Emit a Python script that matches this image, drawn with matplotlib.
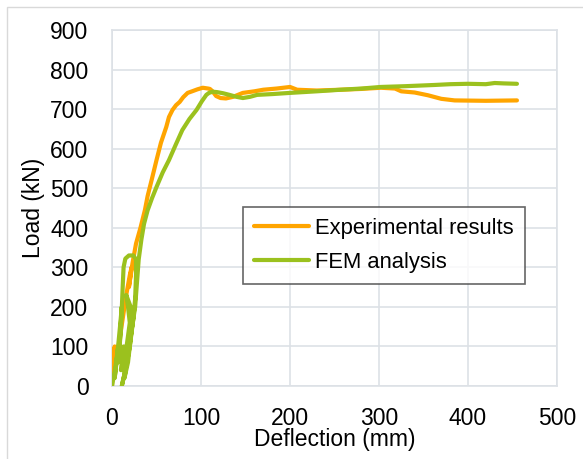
import matplotlib
matplotlib.use("Agg")
import matplotlib.pyplot as plt
from matplotlib.patches import Rectangle

plt.rcParams['font.family'] = ['Liberation Sans', 'DejaVu Sans']

# Experimental results (deflection mm, load kN)
exp_x = [0, 1, 2, 3, 4, 3, 5, 8, 12, 16, 20, 22, 19, 23, 27, 32, 37, 40, 45, 50, 55, 61, 64, 68,
         72, 76, 80, 85, 90, 96, 102, 108, 110, 113, 117, 122, 128, 136, 147, 160, 170, 185, 200,
         208, 230, 257, 280, 302, 318, 325, 340, 355, 370, 385, 420, 455]
exp_y = [0, 50, 90, 100, 85, 40, 60, 110, 170, 230, 280, 300, 250, 310, 360, 400, 445, 480, 525,
         571, 615, 655, 680, 698, 710, 718, 730, 741, 745, 750, 754, 752, 751, 745, 733, 728, 727,
         731, 741, 745, 749, 752, 756, 749, 747, 749, 751, 754, 752, 745, 742, 735, 726, 722, 721,
         722]

# FEM analysis
fem_x = [0, 4, 7, 5, 3, 6, 9, 11, 9, 7, 10, 12, 13, 15, 19, 24, 27, 27, 26, 24, 20, 16, 11,
         14, 15, 13, 10, 13, 17, 20, 18, 16, 21, 24, 22, 18, 14, 18,
         22, 26, 28, 30, 33, 36, 40, 45, 50, 57, 64, 72, 79, 87, 95, 101, 106, 109, 113, 118,
         125, 132, 140, 147, 155, 163, 180, 200, 230, 257, 280, 302, 330, 362, 380, 400, 420, 430,
         440, 455]
fem_y = [0, 50, 100, 60, 20, 80, 150, 200, 120, 60, 140, 250, 300, 322, 330, 330, 320, 280, 220,
         170, 100, 50, 0,
         30, 80, 100, 40, 50, 110, 160, 200, 230, 200, 180, 140, 80, 20, 60,
         140, 200, 260, 320, 370, 410, 444, 475, 503, 540, 571, 612, 647,
         675, 698, 720, 736, 741, 744, 743, 740, 736, 731, 728, 731, 736, 738, 741, 745, 749, 752,
         756, 758, 761, 763, 764, 763, 766, 765, 764]

x_ticks = [0, 100, 200, 300, 400, 500]
y_ticks = [0, 100, 200, 300, 400, 500, 600, 700, 800, 900]

fig = plt.figure(figsize=(5.83, 4.59), dpi=100)
ax = fig.add_axes([112/583, 1-386/459, 445/583, 356/459])

# figure border (top and left only visible)
fig.patches.append(Rectangle((7/583, -0.1), 1.2, 1.1 - 7/459, transform=fig.transFigure,
                             fill=False, edgecolor='#d9d9d9', linewidth=1.0, zorder=0))

ax.plot(exp_x, exp_y, color='#FFA500', linewidth=3, label='Experimental results',
        solid_joinstyle='round', solid_capstyle='round', zorder=3)
ax.plot(fem_x, fem_y, color='#9BC11E', linewidth=3, label='FEM analysis',
        solid_joinstyle='round', solid_capstyle='round', zorder=4)

ax.set_xlim(0, 500)
ax.set_ylim(0, 900)
ax.set_xticks(x_ticks)
ax.set_yticks(y_ticks)
ax.grid(True, color='#dde1e6', linewidth=1.2)
ax.set_axisbelow(True)
for s in ax.spines.values():
    s.set_color('#dde1e6')
    s.set_linewidth(1.2)
ax.tick_params(length=0, labelsize=16.5, colors='#000000')
ax.tick_params(axis='x', pad=15)
ax.tick_params(axis='y', pad=17)

ax.set_xlabel('Deflection (mm)', fontsize=16.5, labelpad=-1)
ax.set_ylabel('Load (kN)', fontsize=16.5, labelpad=4)

leg = ax.legend(loc='upper left', bbox_to_anchor=(0.294, 0.503), fontsize=15.8,
                frameon=True, fancybox=False, edgecolor='#404040', handlelength=2.5,
                handletextpad=0.3, borderpad=0.5, labelspacing=0.6, borderaxespad=0)
leg.get_frame().set_linewidth(1.2)

fig.savefig('out.png', dpi=100)
